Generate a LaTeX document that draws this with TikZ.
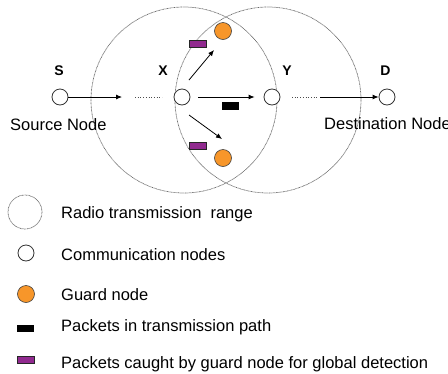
\documentclass[tikz,border=0pt]{standalone}
\usepackage{fontspec}
\setmainfont{Liberation Sans}
\usetikzlibrary{arrows.meta,calc}
\definecolor{guardor}{HTML}{F7962A}
\definecolor{pktpur}{HTML}{912A8F}
\begin{document}
\begin{tikzpicture}[x=1pt,y=-1pt,
  commnode/.style={circle,draw=black!80,line width=0.8pt,fill=white,minimum size=16pt,inner sep=0pt},
  guardnode/.style={circle,draw=black!75,line width=0.6pt,fill=guardor,minimum size=17pt,inner sep=0pt},
  blackpkt/.style={rectangle,fill=black,minimum width=17pt,minimum height=7.5pt,inner sep=0pt},
  purplepkt/.style={rectangle,draw=black!85,line width=0.6pt,fill=pktpur,minimum width=17pt,minimum height=7pt,inner sep=0pt},
  rangecirc/.style={draw=black!60,dash pattern=on 0.8pt off 0.6pt,line width=0.7pt},
  conn/.style={-{Latex[length=6pt,width=5pt]},line width=0.8pt},
  gap/.style={dotted,line width=0.7pt,draw=black!70},
  lbl/.style={font=\fontsize{14}{16}\selectfont\bfseries,anchor=base},
  txt/.style={font=\fontsize{16.5}{19}\selectfont,anchor=base west,inner sep=0pt}]
\useasboundingbox (0,0) rectangle (448,373);
% transmission ranges
\draw[rangecirc] (184,100) circle (93);
\draw[rangecirc] (268,100) circle (93);
% nodes
\node[commnode] (S) at (60,97) {};
\node[commnode] (X) at (182,97) {};
\node[commnode] (Y) at (272,97) {};
\node[commnode] (D) at (387,97) {};
\node[guardnode] (G1) at (223,31) {};
\node[guardnode] (G2) at (223,158) {};
\node[purplepkt] (P1) at (197.5,43.5) {};
\node[purplepkt] (P2) at (197.5,145.5) {};
\node[blackpkt] (B1) at (230.5,106) {};
% labels
\node[lbl] (lS) at (59,75) {S};
\node[lbl] (lX) at (163,75) {X};
\node[lbl] (lY) at (287,75) {Y};
\node[lbl] (lD) at (385.5,75) {D};
\node[txt] (tS) at (10,130.5) {Source Node};
\node[txt] (tD) at (324,129.5) {Destination Node};
% connectors
\coordinate (a1) at (122,97);
\coordinate (g1a) at (135,97);
\coordinate (g1b) at (162,97);
\coordinate (g2a) at (292,97);
\coordinate (g2b) at (317,97);
\coordinate (a2) at (320,97);
\draw[conn] (S) -- (a1);
\draw[gap] (g1a) -- (g1b);
\draw[conn,shorten <=8pt,shorten >=9pt] (X) -- (Y);
\draw[gap] (g2a) -- (g2b);
\draw[conn] (a2) -- (D);
\draw[conn] ($(X)+(7,-17)$) -- ($(G1)+(-9,19)$);
\draw[conn] ($(X)+(7,18)$) -- ($(G2)+(-1,-19)$);
% legend
\draw[rangecirc] (25,212) circle (17);
\node[commnode] (L2) at (26,253) {};
\node[guardnode] (L3) at (26,294) {};
\node[blackpkt] (L4) at (25.5,328.5) {};
\node[purplepkt] (L5) at (25.5,360) {};
\node[txt] (T1) at (61,218.3) {Radio transmission\hspace{0.55em}range};
\node[txt] (T2) at (61,260) {Communication nodes};
\node[txt] (T3) at (61,300) {Guard node};
\node[txt] (T4) at (61,331.7) {Packets in transmission path};
\node[txt] (T5) at (61,368.3) {Packets caught by guard node for global detection};
\end{tikzpicture}
\end{document}
